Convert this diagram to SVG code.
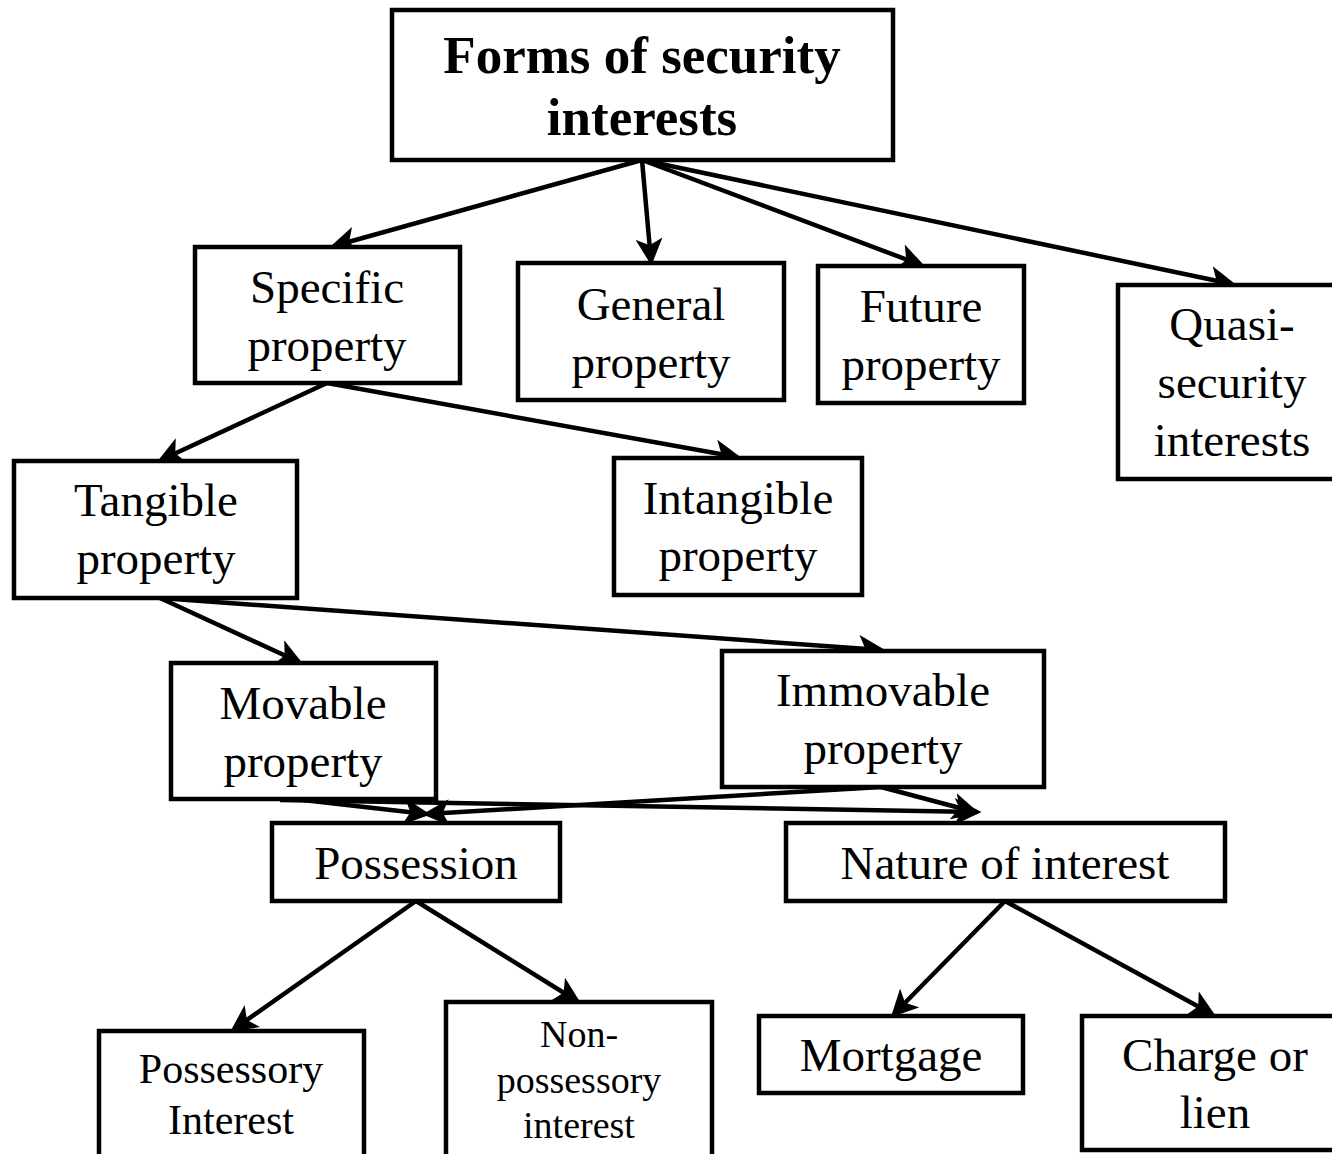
<svg xmlns="http://www.w3.org/2000/svg" width="1332" height="1154" viewBox="0 0 1332 1154">
<defs>
<marker id="ah" markerWidth="6" markerHeight="6" refX="5" refY="3" orient="auto" markerUnits="strokeWidth">
<path d="M0,0 L6,3 L0,6 L1.5,3 Z" fill="#000"/>
</marker>
<style>
.box{fill:#fff;stroke:#000;stroke-width:4.5}
.t{font-family:"Liberation Serif","Times New Roman",serif;font-size:47px;fill:#000;text-anchor:middle}
.b{font-weight:bold;font-size:53px}
.s{font-size:42px}
.xs{font-size:38px}
.e{stroke:#000;stroke-width:4.5;fill:none;marker-end:url(#ah)}
</style>
</defs>
<rect width="1332" height="1154" fill="#fff"/>
<g id="connectors">
<line class="e" x1="642" y1="160" x2="334" y2="246"/>
<line class="e" x1="642" y1="160" x2="651" y2="261"/>
<line class="e" x1="642" y1="160" x2="921" y2="265"/>
<line class="e" x1="642" y1="160" x2="1232" y2="284"/>
<line class="e" x1="327" y1="383" x2="161" y2="460"/>
<line class="e" x1="327" y1="383" x2="737" y2="457"/>
<line class="e" x1="160" y1="598" x2="299" y2="662"/>
<line class="e" x1="160" y1="598" x2="881" y2="650"/>
<line class="e" x1="303" y1="800" x2="426" y2="814"/>
<line class="e" x1="280" y1="800" x2="977" y2="812"/>
<line class="e" x1="881" y1="787" x2="427" y2="814"/>
<line class="e" x1="881" y1="787" x2="975" y2="812"/>
<line class="e" x1="416" y1="901" x2="234" y2="1029"/>
<line class="e" x1="416" y1="901" x2="577" y2="1001"/>
<line class="e" x1="1005" y1="901" x2="894" y2="1014"/>
<line class="e" x1="1005" y1="901" x2="1212" y2="1014"/>
</g>
<g id="root"><rect class="box" x="392" y="10" width="501" height="150"/><text class="t b" x="642" y="73">Forms of security</text><text class="t b" x="642" y="135">interests</text></g>
<g id="specific"><rect class="box" x="195" y="247" width="265" height="136"/><text class="t" x="327" y="303">Specific</text><text class="t" x="327" y="361">property</text></g>
<g id="general"><rect class="box" x="518" y="263" width="266" height="137"/><text class="t" x="651" y="320">General</text><text class="t" x="651" y="378">property</text></g>
<g id="future"><rect class="box" x="818" y="266" width="206" height="137"/><text class="t" x="921" y="322">Future</text><text class="t" x="921" y="380">property</text></g>
<g id="quasi"><rect class="box" x="1118" y="285" width="230" height="194"/><text class="t" x="1232" y="340">Quasi-</text><text class="t" x="1232" y="398">security</text><text class="t" x="1232" y="456">interests</text></g>
<g id="tangible"><rect class="box" x="14" y="461" width="283" height="137"/><text class="t" x="156" y="516">Tangible</text><text class="t" x="156" y="574">property</text></g>
<g id="intangible"><rect class="box" x="614" y="458" width="248" height="137"/><text class="t" x="738" y="514">Intangible</text><text class="t" x="738" y="571">property</text></g>
<g id="movable"><rect class="box" x="171" y="663" width="265" height="136"/><text class="t" x="303" y="719">Movable</text><text class="t" x="303" y="777">property</text></g>
<g id="immovable"><rect class="box" x="722" y="651" width="322" height="136"/><text class="t" x="883" y="706">Immovable</text><text class="t" x="883" y="764">property</text></g>
<g id="possession"><rect class="box" x="272" y="823" width="288" height="78"/><text class="t" x="416" y="879">Possession</text></g>
<g id="nature"><rect class="box" x="786" y="823" width="439" height="78"/><text class="t" x="1005" y="879">Nature of interest</text></g>
<g id="possessory"><rect class="box" x="99" y="1031" width="265" height="140"/><text class="t s" x="231" y="1083">Possessory</text><text class="t s" x="231" y="1134">Interest</text></g>
<g id="nonpossessory"><rect class="box" x="446" y="1002" width="266" height="170"/><text class="t xs" x="579" y="1047">Non-</text><text class="t xs" x="579" y="1093">possessory</text><text class="t xs" x="579" y="1138">interest</text></g>
<g id="mortgage"><rect class="box" x="759" y="1016" width="264" height="77"/><text class="t" x="891" y="1071">Mortgage</text></g>
<g id="charge"><rect class="box" x="1082" y="1016" width="270" height="134"/><text class="t" x="1215" y="1071">Charge or</text><text class="t" x="1215" y="1128">lien</text></g>
</svg>
